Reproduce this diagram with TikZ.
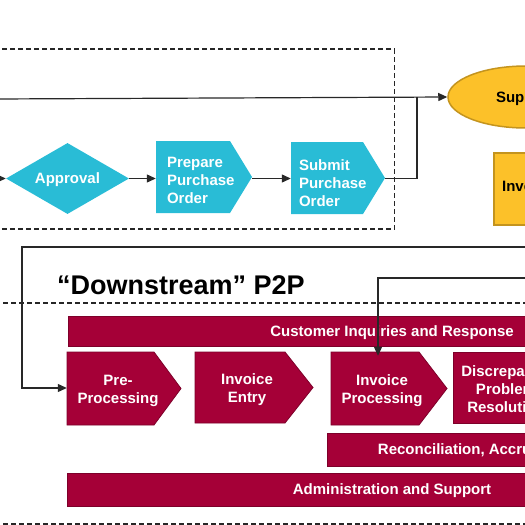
\documentclass[tikz,border=0pt]{standalone}
\usepackage{fontspec}
\setmainfont{Liberation Sans}
\usetikzlibrary{arrows.meta,shapes.geometric}
\definecolor{crim}{RGB}{165,0,55}
\definecolor{crimedge}{RGB}{125,0,42}
\definecolor{cyanf}{RGB}{41,188,214}
\definecolor{yel}{RGB}{252,193,41}
\definecolor{yeledge}{RGB}{196,148,30}
\definecolor{ln}{RGB}{40,40,40}
\tikzset{
  conn/.style={draw=ln, line width=1.2pt},
  arr/.style={conn, -{Triangle[length=9pt,width=8pt]}},
  dashbox/.style={draw=black!85, line width=1.2pt, dash pattern=on 5pt off 3pt},
  txt/.style={font=\fontsize{15}{18}\selectfont\bfseries},
  cytext/.style={txt, text=white, inner sep=0pt},
  crtext/.style={txt, text=white, align=center, inner sep=0pt},
  crshape/.style={fill=crim, draw=crimedge, line width=0.8pt},
  cyshape/.style={fill=cyanf},
  bar/.style={fill=crim, draw=crimedge, line width=0.8pt, txt, text=white, inner sep=0pt, text depth=0pt},
  yelshape/.style={fill=yel, draw=yeledge, line width=1.5pt, txt, inner sep=0pt}
}
\newcommand\pentpath[6]{\path[#1] (#2,#5) -- (#3,#5) -- (#4,{(#5+#6)/2}) -- (#3,#6) -- (#2,#6) -- cycle;}
\begin{document}
\begin{tikzpicture}[x=1pt,y=-1pt]
\useasboundingbox (0,0) rectangle (525,525);
\clip (0,0) rectangle (525,525);
% ---------- upstream ----------
\node[diamond, fill=cyanf, minimum width=123pt, minimum height=71pt, aspect=1.73, cytext, text depth=0pt] (appr) at (67.5,178.5) {Approval};
\pentpath{cyshape}{156}{230}{252}{141}{213}
\node[cytext, align=left, text width=74pt, inner xsep=11pt, minimum height=66pt] (prep) at (204,180) {Prepare\\Purchase\\Order};
\pentpath{cyshape}{291}{363}{385}{142}{214}
\node[cytext, align=left, text width=78pt, inner xsep=8pt, minimum height=62pt] (subm) at (338,183) {Submit\\Purchase\\Order};
\node[ellipse, yelshape, minimum width=156pt, minimum height=62pt, text depth=0pt] (sup) at (526,97) {Supplier};
\node[rectangle, yelshape, minimum width=68pt, minimum height=72pt, text depth=6pt] (inv) at (528,189) {Invoice};
\draw[dashbox] (-10,49) rectangle (394.5,229);
\coordinate (inTop) at (-5,99);
\coordinate (inAppr) at (-5,178.5);
\coordinate (join) at (417,97);
\draw[arr] (inTop) -- (sup.west);
\draw[arr] (inAppr) -- (appr.west);
\draw[arr] (appr.east) -- (appr.east -| prep.west);
\draw[arr] (appr.east -| prep.east) -- (appr.east -| subm.west);
\draw[conn] (appr.east -| subm.east) -| (join);
% ---------- downstream ----------
\node[font=\fontsize{27}{30}\selectfont\bfseries, anchor=base west, inner sep=0pt] (ds) at (57,294) {“Downstream” P2P};
\node[bar, minimum width=648pt, minimum height=30pt] (cust) at (392,331) {Customer Inquiries and Response};
\node[bar, minimum width=382pt, minimum height=33pt] (recon) at (518,449.5) {Reconciliation, Accruals and Reporting};
\node[bar, minimum width=650pt, minimum height=33pt] (admin) at (392,489.5) {Administration and Support};
\pentpath{crshape}{67}{154}{181}{352}{425}
\node[crtext, minimum width=102pt, minimum height=69pt] (pre) at (118,390.5) {Pre-\\Processing};
\pentpath{crshape}{195}{285}{313}{352}{423}
\node[crtext, minimum width=104pt, minimum height=67pt] (entry) at (247,389.5) {Invoice\\Entry};
\pentpath{crshape}{331}{419}{447}{352}{425}
\node[crtext, minimum width=102pt, minimum height=69pt] (ip) at (382,390.5) {Invoice\\Processing};
\fill[crim, draw=crimedge, line width=0.8pt] (453,352) rectangle (560,423);
\node[crtext, minimum width=106pt, minimum height=68pt] (disc) at (506,389) {Discrepancy\\Problem\\Resolution};
\draw[dashbox] (-5,303) -- (530,303);
\draw[dashbox] (-5,524) -- (530,524);
\coordinate (r1) at (530,247);
\coordinate (c1) at (22,247);
\coordinate (r2) at (530,278);
\draw[arr] (r1) -- (c1) |- ([yshift=2.5pt]pre.west);
\draw[arr] (r2) -| ([xshift=-4pt]ip.north);
\end{tikzpicture}
\end{document}
